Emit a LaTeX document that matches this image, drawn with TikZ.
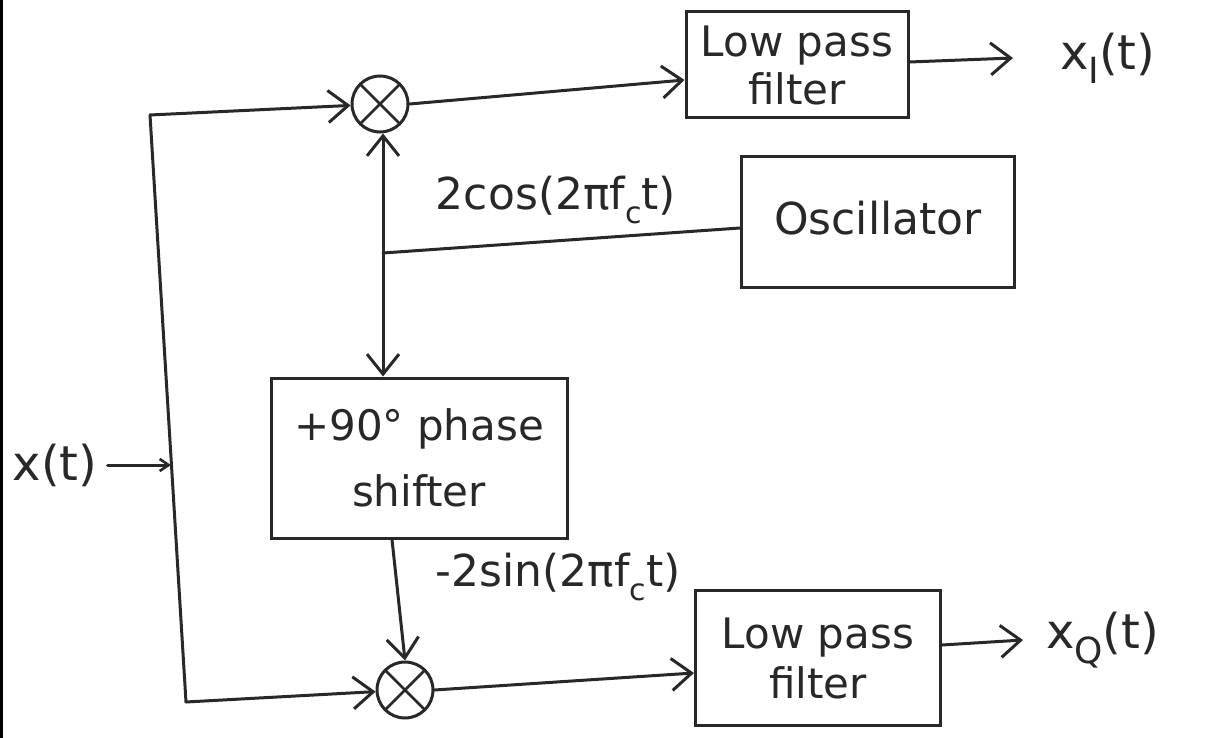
\documentclass[tikz,border=0pt]{standalone}
\usepackage{fontspec}
\setmainfont{DejaVu Sans}
\usetikzlibrary{arrows.meta}
\definecolor{ink}{RGB}{40,40,40}
\tikzset{
  wire/.style={line width=3pt, draw=ink, line cap=round, line join=round},
  arr/.style={wire, -{Straight Barb[length=20pt,width=32pt,line width=3pt]}},
  smallarr/.style={wire, -{Straight Barb[length=9pt,width=12pt,line width=2.6pt]}},
  blk/.style={draw=ink, line width=3pt, rectangle, inner sep=0pt, align=center, text=ink, font=\fontsize{42}{48}\selectfont},
  lbl/.style={text=ink, inner sep=0pt, font=\fontsize{44}{50}\selectfont},
  mixer/.style={draw=ink, line width=3pt, circle, minimum size=56pt, inner sep=0pt,
    path picture={\draw[ink, line width=2.8pt]
      (path picture bounding box.north west) -- (path picture bounding box.south east)
      (path picture bounding box.north east) -- (path picture bounding box.south west);}}
}
\newcommand{\lowsub}[2][30]{\raisebox{-0.3em}{\fontsize{#1}{#1}\selectfont #2}}
\begin{document}
\begin{tikzpicture}[x=1pt,y=-1pt]
\useasboundingbox[fill=white] (0,0) rectangle (1207,738);
\fill[black] (0,0) rectangle (3,738);

% nodes
\node[mixer] (mixI) at (380,104) {};
\node[mixer] (mixQ) at (405,690) {};
\node[blk, minimum width=222pt, minimum height=106pt] (lpfI) at (797,65) {Low pass\\filter};
\node[blk, minimum width=273pt, minimum height=130pt, font=\fontsize{44}{48}\selectfont] (osc) at (878,222) {\raisebox{8pt}{Oscillator}};
\node[blk, minimum width=296pt, minimum height=160pt, font=\fontsize{42}{66}\selectfont] (ps) at (419,458) {+90° phase\\shifter};
\node[blk, minimum width=245pt, minimum height=135pt, font=\fontsize{42}{50}\selectfont] (lpfQ) at (818,658) {Low pass\\filter};

\node[lbl, font=\fontsize{48}{50}\selectfont] (xt) at (55,465) {x(t)};
\node[lbl, anchor=west, font=\fontsize{48}{50}\selectfont] (xI) at (1060,58) {x\lowsub[36]{I}(t)};
\node[lbl, anchor=west, font=\fontsize{48}{50}\selectfont] (xQ) at (1046,640) {x\lowsub[36]{Q}(t)};
\node[lbl] (cosl) at (556,200) {2cos(2πf\lowsub{c}t)};
\node[lbl] (sinl) at (558,577) {-2sin(2πf\lowsub{c}t)};

% coordinates
\coordinate (tl) at (150,115);
\coordinate (bl) at (186,702);
\coordinate (xin) at (171,465);
\coordinate (j) at (383,253);

% connectors
\draw[wire] (tl) -- (bl);
\draw[smallarr] ([xshift=10pt]xt.east) -- (xin);
\draw[arr] (tl) -- (mixI);
\draw[arr] (bl) -- (mixQ);
\draw[arr] (mixI.east) -- (lpfI.west |- 0,80);
\draw[arr] (mixQ.east) -- (lpfQ.west |- 0,673);
\draw[arr] (lpfI.east |- 0,62) -- ([xshift=-47pt]xI.west);
\draw[arr] (lpfQ.east |- 0,645) -- ([xshift=-23pt]xQ.west);
\draw[wire] (osc.west |- 0,228) -- (j);
\draw[arr] (j) -- (j |- mixI.south);
\draw[arr] (j) -- (j |- ps.north);
\draw[arr] (ps.south -| 392,0) -- (mixQ.north);
\end{tikzpicture}
\end{document}
